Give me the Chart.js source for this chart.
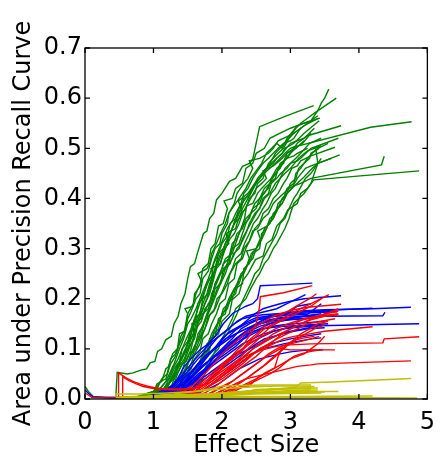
<!DOCTYPE html>
<html><head><meta charset="utf-8">
<script src="https://cdn.jsdelivr.net/npm/chart.js@4"></script>
<style>html,body{margin:0;padding:0;background:#fff}</style>
</head><body><canvas id="c" width="444" height="460"></canvas>
<script>
const xTicks=[0,1,2,3,4,5];
const yTicks=[0,0.1,0.2,0.3,0.4,0.5,0.6,0.7];
const xTitle='Effect Size';
const yTitle='Area under Precision Recall Curve';

// each run: x0,y0,x1,y1,...
const greenRuns=[
[0,0.025,0.05,0.015,0.12,0.005,0.3,0.003,0.5,0.003],
[0.45,0.004,0.47,0.053,0.62,0.05,0.7,0.052,0.83,0.058,0.9,0.06,0.95,0.072,1.02,0.075,1.06,0.095,1.12,0.1,1.18,0.118,1.26,0.125,1.3,0.15,1.36,0.165,1.4,0.19,1.46,0.21,1.5,0.24,1.54,0.264,1.6,0.27,1.64,0.29,1.73,0.33,1.78,0.335,1.82,0.36,1.88,0.37,1.92,0.397,2.0,0.41,2.11,0.434,2.2,0.44,2.3,0.464,2.4,0.47,2.45,0.478,2.55,0.543,2.95,0.565,3.34,0.585],
[0.95,0.004,1.3,0.01,1.5,0.03,1.6,0.05,1.73,0.075,1.8,0.09,1.85,0.12,1.95,0.13,2.0,0.155,2.11,0.17,2.15,0.198,2.25,0.21,2.3,0.235,2.38,0.25,2.49,0.278,2.6,0.285,2.65,0.31,2.73,0.318,2.8,0.345,2.9,0.36,2.96,0.377,3.1,0.39,3.15,0.41,3.25,0.42,3.34,0.437,4.88,0.455],
[0.75,0.004,1.0,0.015,1.1,0.035,1.18,0.04,1.25,0.07,1.32,0.085,1.38,0.11,1.45,0.13,1.5,0.16,1.55,0.175,1.62,0.2,1.68,0.21,1.72,0.24,1.8,0.255,1.85,0.28,1.9,0.3,1.97,0.31,2.0,0.33,2.08,0.35,2.1,0.37,2.2,0.39,2.25,0.4,2.35,0.42,2.42,0.44,2.5,0.455,2.58,0.47,2.65,0.49,2.8,0.51,2.88,0.5,2.95,0.52,3.1,0.545,3.2,0.55,3.3,0.555,3.4,0.575,3.45,0.59,3.5,0.6,3.56,0.618],
[0.8,0.004,1.0,0.01,1.05,0.03,1.12,0.035,1.18,0.06,1.22,0.065,1.28,0.09,1.35,0.1,1.38,0.13,1.45,0.135,1.5,0.17,1.46,0.18,1.58,0.185,1.6,0.21,1.68,0.225,1.72,0.26,1.8,0.27,1.84,0.3,1.9,0.31,1.95,0.345,2.02,0.35,2.08,0.38,2.03,0.395,2.15,0.4,2.2,0.42,2.3,0.43,2.35,0.46,2.45,0.47,2.5,0.49,2.62,0.5,2.7,0.52,2.85,0.53,3.0,0.54,3.2,0.55,3.43,0.56],
[0.8,0.004,1.1,0.012,1.2,0.03,1.3,0.04,1.35,0.06,1.45,0.08,1.5,0.1,1.6,0.12,1.65,0.15,1.72,0.17,1.8,0.18,1.85,0.2,1.9,0.23,1.95,0.245,2.0,0.26,2.05,0.28,2.15,0.29,2.2,0.31,2.25,0.33,2.3,0.345,2.4,0.36,2.45,0.38,2.55,0.39,2.6,0.41,2.68,0.42,2.72,0.44,2.8,0.45,2.85,0.47,2.95,0.48,3.0,0.49,3.12,0.505,4.17,0.542,4.77,0.553],
[0.9,0.004,1.2,0.015,1.3,0.03,1.4,0.05,1.48,0.06,1.55,0.09,1.62,0.1,1.68,0.12,1.75,0.14,1.8,0.165,1.88,0.175,1.93,0.2,2.0,0.21,2.08,0.23,2.12,0.25,2.2,0.27,2.28,0.28,2.32,0.3,2.4,0.315,2.45,0.335,2.52,0.34,2.6,0.36,2.68,0.37,2.75,0.39,2.82,0.4,2.9,0.41,2.98,0.42,3.05,0.425,3.15,0.43,3.3,0.44,4.33,0.467,4.37,0.484],
[0.85,0.004,1.15,0.02,1.25,0.045,1.3,0.06,1.38,0.075,1.42,0.1,1.5,0.115,1.55,0.14,1.62,0.16,1.65,0.19,1.72,0.2,1.78,0.23,1.85,0.245,1.88,0.27,1.95,0.29,2.0,0.31,2.08,0.325,2.12,0.35,2.2,0.36,2.25,0.38,2.32,0.395,2.4,0.41,2.48,0.43,2.55,0.44,2.62,0.455,2.7,0.47,2.78,0.49,2.85,0.5,2.92,0.51,3.0,0.525,3.08,0.54,3.15,0.55,3.25,0.56,3.35,0.57,3.67,0.6],
[1.0,0.004,1.25,0.02,1.32,0.03,1.4,0.05,1.45,0.07,1.52,0.09,1.6,0.1,1.65,0.13,1.72,0.145,1.78,0.17,1.85,0.19,1.9,0.22,1.98,0.23,2.02,0.26,2.1,0.27,2.15,0.3,2.25,0.31,2.3,0.33,2.35,0.35,2.42,0.37,2.5,0.38,2.55,0.4,2.62,0.41,2.7,0.43,2.78,0.44,2.82,0.46,2.9,0.47,2.95,0.49,3.05,0.5,3.1,0.51,3.25,0.525,3.74,0.545],
[1.05,0.004,1.3,0.02,1.4,0.03,1.45,0.045,1.55,0.06,1.6,0.08,1.68,0.095,1.72,0.12,1.8,0.13,1.85,0.15,1.92,0.17,1.97,0.19,2.05,0.2,2.1,0.23,2.18,0.24,2.22,0.27,2.3,0.28,2.35,0.3,2.42,0.32,2.48,0.34,2.55,0.35,2.6,0.37,2.68,0.38,2.75,0.4,2.82,0.41,2.9,0.43,2.95,0.44,3.02,0.46,3.1,0.465,3.15,0.475,3.3,0.485,3.65,0.502],
[1.1,0.004,1.35,0.015,1.45,0.025,1.5,0.04,1.6,0.05,1.65,0.07,1.72,0.085,1.78,0.11,1.85,0.12,1.9,0.14,1.98,0.16,2.02,0.18,2.1,0.19,2.15,0.21,2.22,0.23,2.28,0.25,2.35,0.26,2.4,0.28,2.36,0.295,2.5,0.3,2.55,0.31,2.62,0.33,2.68,0.35,2.75,0.36,2.8,0.38,2.88,0.39,2.95,0.41,3.02,0.42,3.1,0.44,3.22,0.46,3.3,0.465,3.4,0.47,3.72,0.487],
[0.75,0.004,1.0,0.015,1.05,0.02,1.12,0.04,1.2,0.05,1.25,0.08,1.32,0.09,1.35,0.1,1.4,0.125,1.47,0.14,1.5,0.17,1.58,0.19,1.62,0.21,1.7,0.235,1.65,0.25,1.78,0.26,1.82,0.27,1.85,0.29,1.92,0.31,1.98,0.33,2.05,0.35,2.1,0.37,2.18,0.39,2.22,0.41,2.32,0.43,2.38,0.44,2.45,0.46,2.4,0.475,2.55,0.48,2.68,0.49,2.75,0.5,2.82,0.515,2.9,0.52,3.05,0.53,3.2,0.545,3.41,0.56],
[0.95,0.004,1.2,0.025,1.28,0.04,1.35,0.07,1.42,0.08,1.5,0.11,1.55,0.13,1.6,0.16,1.68,0.17,1.72,0.2,1.8,0.21,1.85,0.24,1.9,0.26,1.95,0.29,2.02,0.3,2.08,0.32,2.15,0.34,2.2,0.36,2.28,0.38,2.32,0.4,2.4,0.405,2.45,0.42,2.52,0.44,2.58,0.45,2.65,0.46,2.72,0.47,2.8,0.48,2.88,0.49,3.0,0.51,3.1,0.515,3.2,0.52,3.35,0.54],
[1.0,0.004,1.25,0.02,1.3,0.04,1.38,0.06,1.45,0.075,1.52,0.1,1.58,0.12,1.62,0.14,1.7,0.155,1.75,0.18,1.82,0.19,1.85,0.21,1.92,0.23,1.98,0.25,2.05,0.26,2.1,0.28,2.15,0.3,2.22,0.33,2.3,0.34,2.35,0.36,2.42,0.37,2.48,0.39,2.55,0.4,2.62,0.42,2.7,0.43,2.78,0.45,2.85,0.46,2.92,0.48,3.0,0.49,3.05,0.5,3.18,0.51,3.3,0.53],
[0.9,0.004,1.15,0.015,1.22,0.03,1.3,0.05,1.35,0.06,1.42,0.085,1.5,0.1,1.55,0.12,1.62,0.14,1.66,0.16,1.72,0.18,1.78,0.2,1.82,0.22,1.88,0.245,1.84,0.26,1.97,0.27,2.0,0.28,2.05,0.3,2.12,0.32,2.18,0.33,2.25,0.35,2.3,0.37,2.38,0.39,2.42,0.4,2.5,0.42,2.58,0.43,2.65,0.44,2.6,0.455,2.75,0.465,2.8,0.47,2.88,0.48,2.95,0.49,3.08,0.5,3.2,0.515],
[1.1,0.004,1.35,0.02,1.42,0.035,1.48,0.05,1.55,0.07,1.6,0.09,1.68,0.11,1.72,0.13,1.78,0.15,1.83,0.17,1.9,0.18,1.96,0.2,2.02,0.22,2.08,0.24,2.15,0.26,2.2,0.28,2.28,0.29,2.33,0.31,2.4,0.33,2.46,0.35,2.52,0.36,2.6,0.38,2.65,0.39,2.72,0.41,2.78,0.42,2.85,0.44,2.92,0.45,3.0,0.46,3.06,0.47,3.12,0.48,3.25,0.495,3.45,0.505],
[0.85,0.004,1.1,0.02,1.18,0.035,1.25,0.055,1.3,0.07,1.38,0.1,1.44,0.12,1.5,0.15,1.55,0.16,1.62,0.18,1.68,0.2,1.74,0.22,1.8,0.24,1.85,0.26,1.9,0.28,1.96,0.3,2.02,0.32,2.08,0.34,2.15,0.355,2.2,0.37,2.28,0.39,2.32,0.41,2.38,0.42,2.45,0.44,2.52,0.455,2.6,0.47,2.68,0.48,2.75,0.49,2.82,0.5,2.9,0.51,3.0,0.515,3.05,0.52,3.15,0.54],
[1.2,0.004,1.45,0.02,1.52,0.03,1.58,0.05,1.65,0.055,1.7,0.08,1.78,0.09,1.82,0.12,1.9,0.125,1.95,0.16,2.05,0.17,2.08,0.19,2.15,0.2,2.2,0.22,2.3,0.23,2.32,0.26,2.4,0.27,2.45,0.29,2.55,0.3,2.58,0.33,2.65,0.34,2.7,0.36,2.78,0.37,2.82,0.39,2.9,0.4,2.95,0.42,3.05,0.43,3.08,0.45,3.15,0.46,3.2,0.47,3.28,0.48,3.3,0.49,3.42,0.5],
[1.0,0.004,1.3,0.03,1.35,0.05,1.42,0.07,1.48,0.075,1.55,0.1,1.6,0.13,1.56,0.15,1.7,0.16,1.8,0.19,1.85,0.2,1.9,0.23,1.98,0.25,2.02,0.27,2.1,0.28,2.15,0.31,2.22,0.32,2.28,0.34,2.33,0.36,2.36,0.385,2.45,0.39,2.52,0.41,2.58,0.42,2.65,0.43,2.72,0.44,2.8,0.46,2.88,0.47,2.95,0.48,3.05,0.485,3.1,0.49,3.25,0.5],
[1.15,0.004,1.4,0.02,1.48,0.03,1.55,0.04,1.6,0.06,1.68,0.075,1.72,0.09,1.8,0.11,1.85,0.13,1.93,0.15,1.98,0.16,2.05,0.18,2.1,0.2,2.18,0.22,2.25,0.23,2.3,0.25,2.38,0.27,2.43,0.29,2.5,0.3,2.56,0.32,2.52,0.335,2.66,0.345,2.75,0.36,2.82,0.38,2.88,0.39,2.95,0.41,3.02,0.42,3.1,0.43,3.18,0.44,3.25,0.45,3.32,0.46,3.4,0.47,3.6,0.48],
[0.8,0.004,1.05,0.015,1.12,0.025,1.22,0.04,1.28,0.06,1.36,0.08,1.42,0.1,1.48,0.12,1.55,0.14,1.6,0.16,1.65,0.18,1.7,0.2,1.76,0.22,1.82,0.24,1.88,0.25,1.94,0.27,2.0,0.29,2.05,0.31,2.12,0.33,2.18,0.35,2.25,0.36,2.3,0.38,2.38,0.4,2.42,0.41,2.5,0.43,2.55,0.44,2.62,0.45,2.7,0.46,2.78,0.47,2.85,0.48,2.92,0.49,3.0,0.5,3.1,0.505],
[1.25,0.004,1.5,0.025,1.58,0.04,1.62,0.06,1.7,0.07,1.75,0.09,1.82,0.1,1.88,0.13,1.95,0.14,2.0,0.17,2.08,0.18,2.12,0.2,2.2,0.21,2.25,0.24,2.32,0.25,2.38,0.27,2.45,0.28,2.5,0.3,2.58,0.32,2.62,0.34,2.7,0.35,2.75,0.37,2.82,0.38,2.88,0.4,2.95,0.41,3.0,0.43,3.08,0.44,3.12,0.46,3.2,0.47,3.25,0.48,3.32,0.49,3.4,0.5,3.55,0.51],
[0.95,0.004,1.2,0.02,1.25,0.04,1.33,0.06,1.38,0.075,1.45,0.09,1.5,0.11,1.58,0.13,1.62,0.15,1.7,0.17,1.75,0.19,1.82,0.21,1.86,0.23,1.92,0.26,1.98,0.27,2.03,0.3,2.1,0.31,2.06,0.33,2.2,0.34,2.22,0.35,2.28,0.37,2.35,0.38,2.4,0.4,2.48,0.41,2.52,0.43,2.6,0.44,2.65,0.46,2.75,0.47,2.8,0.48,2.88,0.49,2.92,0.5,3.05,0.51,3.2,0.53,3.42,0.555],
[1.05,0.004,1.32,0.025,1.4,0.04,1.46,0.06,1.52,0.08,1.58,0.1,1.65,0.12,1.7,0.14,1.76,0.16,1.82,0.18,1.88,0.2,1.93,0.22,2.0,0.24,2.05,0.26,2.12,0.27,2.17,0.29,2.25,0.3,2.3,0.32,2.38,0.34,2.42,0.35,2.5,0.37,2.55,0.38,2.62,0.4,2.7,0.41,2.78,0.43,2.85,0.44,2.92,0.46,3.0,0.47,3.08,0.48,3.15,0.49,3.28,0.51,3.45,0.52],
[1.3,0.004,1.55,0.02,1.62,0.03,1.7,0.05,1.75,0.06,1.82,0.08,1.88,0.09,1.95,0.11,2.0,0.12,2.08,0.14,2.15,0.16,2.2,0.18,2.28,0.19,2.35,0.21,2.42,0.23,2.48,0.25,2.55,0.26,2.6,0.28,2.68,0.3,2.72,0.31,2.8,0.33,2.85,0.35,2.92,0.36,2.98,0.38,3.05,0.4,3.1,0.41,3.18,0.43,3.22,0.44,3.3,0.45,3.35,0.46,3.45,0.48],
[1.4,0.004,1.6,0.02,1.68,0.03,1.75,0.05,1.82,0.07,1.88,0.09,1.95,0.1,2.0,0.12,2.08,0.13,2.15,0.15,2.22,0.17,2.28,0.19,2.35,0.2,2.42,0.22,2.5,0.24,2.55,0.25,2.62,0.27,2.68,0.28,2.75,0.3,2.8,0.31,2.88,0.33,2.92,0.34,2.98,0.36,3.0,0.37,3.05,0.39,3.12,0.4,3.2,0.41,3.3,0.43,3.4,0.47,3.37,0.5],
[0.9,0.004,1.18,0.02,1.25,0.035,1.3,0.045,1.38,0.07,1.43,0.09,1.5,0.11,1.55,0.13,1.6,0.15,1.67,0.17,1.72,0.19,1.78,0.21,1.82,0.23,1.88,0.25,1.92,0.27,1.98,0.29,2.05,0.3,2.1,0.32,2.15,0.34,2.22,0.36,2.28,0.38,2.24,0.395,2.38,0.41,2.48,0.43,2.55,0.44,2.62,0.45,2.68,0.47,2.75,0.48,2.82,0.49,2.9,0.5,2.98,0.52,3.05,0.53,3.15,0.54,3.25,0.55,3.4,0.565],
[1.1,0.004,1.38,0.03,1.45,0.05,1.5,0.07,1.58,0.09,1.62,0.11,1.7,0.13,1.74,0.15,1.8,0.17,1.86,0.19,1.92,0.21,1.98,0.23,2.05,0.25,2.1,0.27,2.15,0.28,2.22,0.3,2.28,0.31,2.35,0.33,2.4,0.35,2.48,0.37,2.55,0.38,2.6,0.4,2.68,0.41,2.72,0.43,2.8,0.44,2.86,0.45,2.95,0.46,3.0,0.47,3.1,0.475,3.15,0.48,3.3,0.5,3.7,0.52]
];

const blueRuns=[
[0,0.018,0.06,0.01,0.12,0.004,0.35,0.003,0.9,0.003],
[0.95,0.004,1.2,0.015,1.35,0.04,1.45,0.065,1.58,0.085,1.68,0.098,1.8,0.11,1.9,0.125,2.02,0.15,2.16,0.171,2.28,0.18,2.35,0.185,2.45,0.19,2.52,0.2,2.56,0.226,2.9,0.228,3.32,0.231],
[1.0,0.004,1.3,0.02,1.45,0.04,1.6,0.06,1.75,0.08,1.9,0.1,2.05,0.115,2.2,0.13,2.35,0.14,2.5,0.15,2.62,0.16,2.78,0.168,2.95,0.172,3.2,0.176,3.5,0.178,4.2,0.18,4.76,0.183],
[1.1,0.004,1.4,0.015,1.55,0.03,1.7,0.05,1.85,0.065,2.0,0.08,2.15,0.095,2.3,0.11,2.45,0.12,2.6,0.13,2.75,0.135,2.9,0.14,3.1,0.143,3.4,0.146,4.88,0.15],
[1.2,0.004,1.45,0.02,1.6,0.04,1.75,0.06,1.9,0.085,2.05,0.1,2.2,0.12,2.35,0.135,2.5,0.15,2.65,0.16,2.8,0.168,3.0,0.172,3.3,0.175,3.7,0.178,4.2,0.181],
[1.05,0.004,1.35,0.02,1.5,0.035,1.65,0.055,1.8,0.075,1.95,0.09,2.1,0.11,2.25,0.125,2.4,0.14,2.55,0.15,2.7,0.158,2.85,0.162,3.1,0.164,3.5,0.165,4.35,0.166,4.38,0.173],
[1.15,0.004,1.4,0.02,1.55,0.045,1.68,0.065,1.82,0.09,1.95,0.11,2.08,0.13,2.22,0.14,2.35,0.155,2.48,0.17,2.6,0.18,2.72,0.185,2.85,0.19,3.0,0.195,3.2,0.2,3.74,0.206],
[1.3,0.004,1.6,0.01,1.8,0.02,1.95,0.03,2.1,0.045,2.25,0.06,2.4,0.07,2.55,0.08,2.7,0.085,2.85,0.09,3.0,0.094,3.2,0.097,3.48,0.098],
[1.0,0.004,1.25,0.02,1.4,0.045,1.55,0.07,1.68,0.09,1.82,0.11,1.95,0.125,2.1,0.14,2.22,0.155,2.35,0.165,2.5,0.17,2.65,0.175,2.8,0.18,2.95,0.19,3.1,0.2,3.22,0.208],
[1.1,0.004,1.35,0.015,1.5,0.03,1.65,0.05,1.8,0.065,1.95,0.085,2.1,0.1,2.25,0.115,2.4,0.13,2.55,0.14,2.7,0.15,2.85,0.155,3.0,0.16,3.2,0.165,3.45,0.17],
[0.9,0.004,1.2,0.02,1.35,0.035,1.5,0.055,1.65,0.08,1.8,0.1,1.92,0.12,2.05,0.135,2.18,0.15,2.3,0.16,2.45,0.165,2.6,0.168,2.8,0.17,3.0,0.172,3.2,0.174,3.6,0.175],
[1.25,0.004,1.5,0.015,1.65,0.03,1.8,0.045,1.95,0.06,2.1,0.075,2.25,0.09,2.4,0.1,2.55,0.11,2.7,0.12,2.85,0.13,3.0,0.135,3.2,0.14,3.4,0.145],
[1.15,0.004,1.4,0.015,1.55,0.035,1.7,0.05,1.85,0.07,2.0,0.09,2.12,0.105,2.25,0.12,2.4,0.135,2.55,0.145,2.68,0.15,2.82,0.155,3.0,0.158,3.15,0.16,3.35,0.162],
[1.35,0.004,1.6,0.015,1.75,0.03,1.9,0.05,2.05,0.065,2.2,0.08,2.35,0.095,2.5,0.11,2.62,0.12,2.75,0.125,2.9,0.13,3.05,0.135,3.25,0.14,3.5,0.142],
[1.05,0.004,1.3,0.015,1.45,0.03,1.6,0.05,1.75,0.07,1.88,0.085,2.0,0.1,2.15,0.12,2.28,0.14,2.4,0.15,2.55,0.16,2.7,0.165,2.88,0.167,3.05,0.17,3.3,0.172,3.68,0.174],
[1.2,0.004,1.45,0.02,1.6,0.035,1.75,0.055,1.9,0.075,2.05,0.09,2.2,0.105,2.32,0.12,2.45,0.13,2.6,0.14,2.75,0.145,2.9,0.148,3.05,0.15,3.25,0.152,3.5,0.155],
[0.95,0.004,1.25,0.015,1.4,0.03,1.55,0.045,1.7,0.065,1.85,0.08,2.0,0.095,2.15,0.11,2.3,0.125,2.45,0.135,2.6,0.14,2.75,0.143,2.9,0.145,3.1,0.146,3.4,0.148],
[1.4,0.004,1.65,0.01,1.8,0.025,1.95,0.04,2.1,0.055,2.25,0.07,2.4,0.085,2.55,0.1,2.7,0.11,2.85,0.115,3.0,0.12,3.2,0.125,3.45,0.13],
[1.1,0.004,1.35,0.02,1.5,0.04,1.62,0.065,1.75,0.085,1.88,0.1,2.0,0.12,2.12,0.135,2.25,0.145,2.38,0.155,2.5,0.162,2.65,0.165,2.8,0.168,2.95,0.17,3.1,0.185,3.3,0.19],
[1.3,0.004,1.55,0.02,1.7,0.04,1.85,0.055,2.0,0.07,2.15,0.085,2.3,0.1,2.45,0.115,2.6,0.125,2.75,0.135,2.9,0.14,3.05,0.145,3.3,0.148,3.55,0.15],
[1.0,0.004,1.3,0.015,1.45,0.035,1.6,0.06,1.72,0.08,1.85,0.095,1.98,0.11,2.1,0.125,2.22,0.14,2.35,0.15,2.5,0.158,2.62,0.16,2.78,0.165,3.0,0.167,3.25,0.169,3.45,0.19],
[1.45,0.004,1.7,0.015,1.85,0.03,2.0,0.045,2.15,0.06,2.3,0.075,2.45,0.09,2.6,0.1,2.75,0.105,2.9,0.11,3.1,0.115,3.3,0.12,3.45,0.122],
[1.2,0.004,1.5,0.02,1.65,0.04,1.78,0.06,1.92,0.08,2.05,0.1,2.18,0.115,2.3,0.13,2.42,0.14,2.55,0.15,2.68,0.155,2.82,0.16,3.0,0.162,3.15,0.165,3.4,0.168],
[0.9,0.004,1.15,0.01,1.3,0.025,1.42,0.04,1.55,0.055,1.68,0.075,1.8,0.09,1.92,0.105,2.05,0.12,2.2,0.13,2.35,0.14,2.5,0.148,2.7,0.155,2.9,0.158,3.2,0.16]
];

const redRuns=[
[0,0.012,0.05,0.008,0.1,0.003,0.4,0.002,0.49,0.002],
[0.49,0.004,0.49,0.052,0.6,0.042,0.7,0.035,0.8,0.03,0.9,0.026,1.0,0.023,1.1,0.021,1.25,0.02,1.45,0.02,1.6,0.022,1.75,0.03,1.9,0.045,2.0,0.06,2.12,0.08,2.25,0.09,2.38,0.11,2.5,0.125,2.62,0.14,2.75,0.15,2.88,0.16,3.0,0.17,3.15,0.18,3.3,0.19,3.45,0.2,3.56,0.208],
[0.55,0.004,0.55,0.044,0.65,0.036,0.75,0.03,0.85,0.025,1.0,0.021,1.2,0.019,1.4,0.018,1.55,0.02,1.7,0.025,1.85,0.035,2.0,0.05,2.15,0.065,2.3,0.08,2.45,0.1,2.6,0.115,2.75,0.13,2.9,0.14,3.05,0.15,3.2,0.16,3.4,0.165,3.7,0.17],
[1.2,0.004,1.5,0.01,1.65,0.025,1.8,0.04,1.95,0.06,2.08,0.075,2.2,0.095,2.32,0.11,2.42,0.13,2.5,0.15,2.55,0.185,2.56,0.204,2.9,0.212,3.32,0.226],
[1.3,0.004,1.6,0.015,1.75,0.03,1.9,0.045,2.05,0.06,2.2,0.075,2.35,0.085,2.5,0.095,2.65,0.1,2.8,0.105,3.0,0.108,3.3,0.11,4.35,0.112,4.37,0.12,4.88,0.124],
[1.6,0.004,1.9,0.01,2.05,0.02,2.2,0.03,2.35,0.04,2.5,0.045,2.65,0.05,2.8,0.055,2.95,0.06,3.1,0.065,3.3,0.068,3.4,0.07,4.76,0.076],
[1.4,0.004,1.7,0.015,1.85,0.03,2.0,0.045,2.15,0.06,2.3,0.075,2.45,0.09,2.6,0.1,2.75,0.11,2.9,0.12,3.05,0.125,3.2,0.128,3.5,0.135,4.2,0.144],
[1.7,0.004,1.95,0.01,2.2,0.022,2.39,0.025,2.5,0.04,2.63,0.052,2.77,0.062,2.82,0.085,2.87,0.1,3.0,0.098,3.34,0.098,3.65,0.098],
[1.15,0.004,1.45,0.015,1.6,0.03,1.75,0.05,1.88,0.07,2.0,0.09,2.12,0.105,2.25,0.12,2.38,0.135,2.5,0.145,2.62,0.155,2.75,0.165,2.9,0.172,3.05,0.178,3.25,0.183,3.74,0.189],
[1.5,0.004,1.75,0.012,1.9,0.025,2.05,0.04,2.2,0.055,2.35,0.07,2.5,0.085,2.62,0.1,2.75,0.115,2.88,0.13,3.0,0.14,3.15,0.15,3.3,0.158,3.5,0.165,3.7,0.168],
[1.3,0.004,1.55,0.01,1.7,0.02,1.85,0.035,2.0,0.05,2.12,0.065,2.25,0.08,2.38,0.1,2.5,0.115,2.6,0.13,2.72,0.145,2.85,0.155,3.0,0.165,3.15,0.175,3.3,0.185,3.45,0.2],
[1.6,0.004,1.85,0.012,2.0,0.025,2.15,0.035,2.3,0.05,2.45,0.065,2.6,0.08,2.72,0.09,2.85,0.1,3.0,0.11,3.15,0.115,3.3,0.12,3.42,0.125],
[1.45,0.004,1.7,0.015,1.85,0.028,2.0,0.04,2.15,0.055,2.3,0.07,2.42,0.085,2.55,0.1,2.68,0.11,2.8,0.12,2.95,0.13,3.1,0.14,3.25,0.15,3.45,0.155,3.65,0.16],
[1.75,0.004,2.0,0.012,2.15,0.022,2.3,0.035,2.45,0.05,2.6,0.065,2.72,0.08,2.85,0.095,2.98,0.11,3.1,0.12,3.22,0.13,3.35,0.14,3.5,0.148],
[1.35,0.004,1.6,0.015,1.75,0.03,1.9,0.048,2.02,0.065,2.15,0.08,2.28,0.095,2.4,0.11,2.52,0.12,2.65,0.13,2.78,0.14,2.92,0.148,3.08,0.155,3.25,0.16,3.45,0.165,3.7,0.18],
[1.55,0.004,1.8,0.01,1.95,0.02,2.1,0.03,2.25,0.045,2.4,0.06,2.55,0.075,2.68,0.09,2.8,0.1,2.95,0.11,3.08,0.118,3.2,0.122,3.35,0.125],
[1.25,0.004,1.5,0.012,1.65,0.028,1.8,0.045,1.92,0.06,2.05,0.075,2.18,0.09,2.3,0.1,2.42,0.12,2.55,0.135,2.65,0.15,2.78,0.16,2.9,0.17,3.02,0.18,3.15,0.19,3.28,0.2,3.38,0.21],
[1.65,0.004,1.9,0.01,2.05,0.02,2.2,0.03,2.35,0.04,2.5,0.055,2.65,0.07,2.78,0.085,2.9,0.1,3.02,0.115,3.15,0.13,3.28,0.14,3.4,0.15,3.55,0.155],
[1.9,0.004,2.1,0.01,2.25,0.02,2.4,0.03,2.55,0.04,2.7,0.05,2.82,0.06,2.95,0.075,3.05,0.085,3.15,0.09,3.3,0.095,3.45,0.098],
[1.4,0.004,1.65,0.012,1.8,0.025,1.95,0.04,2.08,0.055,2.2,0.07,2.32,0.085,2.45,0.1,2.58,0.11,2.7,0.12,2.85,0.13,3.0,0.14,3.15,0.15,3.3,0.16,3.5,0.17,3.7,0.175],
[1.8,0.004,2.05,0.01,2.2,0.02,2.35,0.03,2.5,0.04,2.62,0.05,2.75,0.06,2.88,0.07,3.0,0.08,3.1,0.085,3.2,0.09,3.3,0.1,3.4,0.11,3.5,0.125]
];

const yellowRuns=[
[0.45,0.004,0.45,0.01,0.8,0.01,1.2,0.012,1.6,0.015,2.0,0.02,2.4,0.024,2.8,0.026,3.1,0.026,3.15,0.032,3.6,0.034,4.76,0.041],
[0.5,0.004,0.9,0.006,1.3,0.01,1.6,0.015,1.9,0.022,2.0,0.026,2.3,0.027,2.6,0.028,3.0,0.028,3.3,0.028],
[0.5,0.002,1.0,0.003,1.5,0.004,2.0,0.005,3.0,0.005,4.2,0.006],
[0.6,0.003,1.2,0.006,1.8,0.01,2.3,0.012,2.8,0.014,3.2,0.015,3.7,0.015],
[0.45,0.003,1.0,0.005,1.5,0.008,2.0,0.012,2.5,0.016,2.9,0.02,3.3,0.022],
[0.55,0.002,1.1,0.004,1.7,0.008,2.2,0.014,2.6,0.018,3.0,0.021,3.4,0.022],
[0.6,0.003,1.2,0.005,1.8,0.009,2.4,0.016,2.8,0.02,3.1,0.024,3.35,0.025],
[0.5,0.002,1.25,0.004,1.25,0.008,2.0,0.01,2.6,0.012,3.0,0.013,3.5,0.014],
[0.7,0.002,1.4,0.004,2.0,0.007,2.5,0.01,3.0,0.011,3.45,0.012],
[0.5,0.003,1.3,0.005,2.1,0.009,2.7,0.015,3.05,0.017,3.4,0.018],
[0.5,0.001,1.5,0.002,2.5,0.003,3.5,0.003,4.85,0.002],
[0.65,0.003,1.5,0.006,2.25,0.012,2.5,0.019,2.9,0.021,3.3,0.02]
];

function mk(runs,color,order){
  return runs.map(r=>{
    const pts=[];
    for(let i=0;i<r.length;i+=2)pts.push({x:r[i],y:r[i+1]});
    return {data:pts,borderColor:color,backgroundColor:color,borderWidth:1.4,pointRadius:0,showLine:true,fill:false,tension:0,order:order};
  });
}
const datasets=[].concat(mk(yellowRuns,'#bfbf00',1),mk(redRuns,'#ff0000',2),mk(blueRuns,'#0000ff',3),mk(greenRuns,'#008000',4));

const frame={id:'frame',afterDatasetsDraw(chart){
  const {ctx,chartArea:a,scales:{x,y}}=chart;
  ctx.save();ctx.strokeStyle='#000';ctx.lineWidth=1.3;
  ctx.strokeRect(a.left,a.top,a.right-a.left,a.bottom-a.top);
  ctx.beginPath();
  xTicks.forEach(v=>{const p=x.getPixelForValue(v);ctx.moveTo(p,a.bottom);ctx.lineTo(p,a.bottom-5);ctx.moveTo(p,a.top);ctx.lineTo(p,a.top+5);});
  yTicks.forEach(v=>{const p=y.getPixelForValue(v);ctx.moveTo(a.left,p);ctx.lineTo(a.left+5,p);ctx.moveTo(a.right,p);ctx.lineTo(a.right-5,p);});
  ctx.stroke();ctx.restore();
}};

const font={family:'"DejaVu Sans", sans-serif',size:24};
new Chart(document.getElementById('c'),{
  type:'scatter',
  data:{datasets},
  options:{
    responsive:false,animation:false,
    layout:{padding:{left:0,right:8,top:48,bottom:0}},
    plugins:{legend:{display:false},tooltip:{enabled:false}},
    scales:{
      x:{type:'linear',min:0,max:5,
        afterBuildTicks:s=>{s.ticks=xTicks.map(v=>({value:v}));},
        afterFit:s=>{s.height=61;},
        grid:{display:false,drawTicks:false},border:{display:false},
        ticks:{color:'#000',font,padding:9,maxRotation:0,callback:v=>String(v)},
        title:{display:true,text:xTitle,color:'#000',font,padding:{top:0,bottom:0}}},
      y:{type:'linear',min:0,max:0.7,
        afterBuildTicks:s=>{s.ticks=yTicks.map(v=>({value:v}));},
        afterFit:s=>{s.width=85;},
        grid:{display:false,drawTicks:false},border:{display:false},
        ticks:{color:'#000',font,padding:3,callback:v=>Number(v).toFixed(1)},
        title:{display:true,text:yTitle,color:'#000',font,padding:{top:9,bottom:0}}}
    }
  },
  plugins:[frame]
});
</script></body></html>
